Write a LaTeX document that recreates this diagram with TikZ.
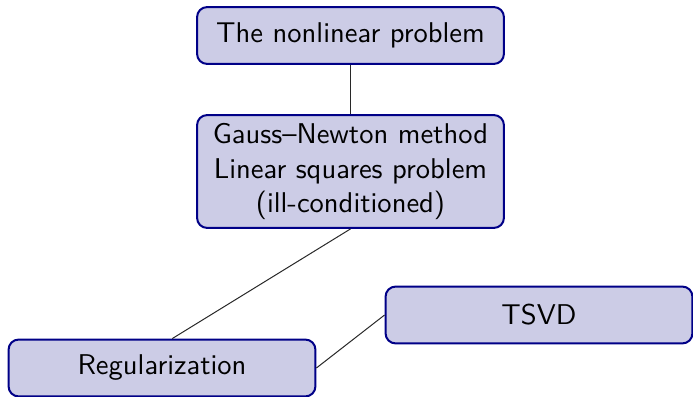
\documentclass[tikz,border=0pt]{standalone}
\usetikzlibrary{positioning}
\definecolor{boxfill}{RGB}{204,204,230}
\definecolor{boxline}{RGB}{0,0,135}
\definecolor{linkcol}{RGB}{40,40,40}
\tikzset{
  blockbox/.style={draw=boxline, fill=boxfill, line width=0.7pt, rounded corners=3.5pt,
    minimum width=107.4pt, minimum height=19.9pt, inner sep=0pt, align=center,
    font=\sffamily},
  link/.style={draw=linkcol, line width=0.35pt}
}
\begin{document}
\begin{tikzpicture}[x=0.35pt,y=-0.35pt]
\useasboundingbox (0,0) rectangle (693,397);
\node[blockbox] (top) at (350.5,35.5) {The nonlinear problem};
\node[blockbox, minimum height=39.5pt] (mid) at (350.5,171.5) {Gauss--Newton method\\Linear squares problem\\(ill-conditioned)};
\node[blockbox] (tsvd) at (539,315) {TSVD};
\node[blockbox] (reg) at (162,368) {Regularization};
\draw[link] (top) -- (mid);
\draw[link] (mid.south) -- ([xshift=3.6pt]reg.north);
\draw[link] (reg.east) -- (tsvd.west);
\end{tikzpicture}
\end{document}
